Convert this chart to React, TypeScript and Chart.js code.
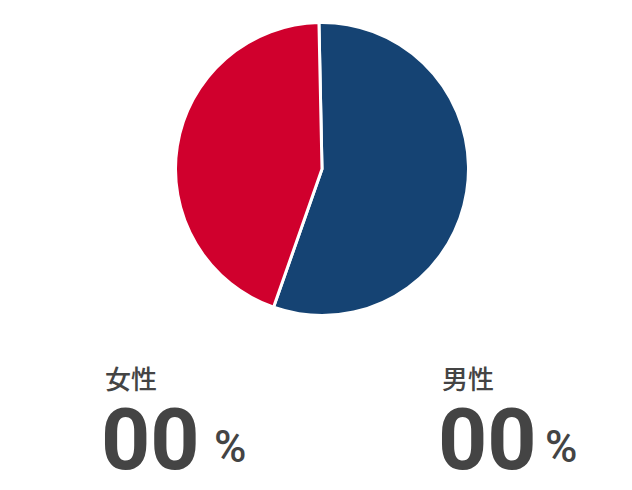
import React, { useEffect, useRef } from "react";
import { Chart, registerables } from "chart.js";

Chart.register(...registerables);

const categories = ["男性", "女性"];
const shares = [55.7, 44.3];
const sliceColors = ["#154373", "#d0002d"];
const percentLabels = ["00", "00"];

const textColor = "#444444";

export default function App() {
  const canvasRef = useRef<HTMLCanvasElement | null>(null);

  useEffect(() => {
    if (!canvasRef.current) return;
    const chart = new Chart(canvasRef.current, {
      type: "pie",
      data: {
        labels: categories,
        datasets: [
          {
            data: shares,
            backgroundColor: sliceColors,
            borderColor: "#ffffff",
            borderWidth: 3,
          },
        ],
      },
      options: {
        animation: false,
        responsive: true,
        maintainAspectRatio: false,
        rotation: -1.2,
        layout: { padding: 0 },
        plugins: {
          legend: { display: false },
          tooltip: { enabled: false },
        },
      },
    });
    return () => chart.destroy();
  }, []);

  const bigFont = "Roboto, 'Noto Sans CJK JP', sans-serif";
  const cjkFont = "'Noto Sans CJK JP', sans-serif";

  const group = (left: number, label: string, value: string, pctLeft: number) => (
    <>
      <div
        style={{
          position: "absolute",
          left,
          top: 365,
          fontFamily: cjkFont,
          fontWeight: 500,
          fontSize: 26,
          lineHeight: "1",
          color: textColor,
          whiteSpace: "nowrap",
        }}
      >
        {label}
      </div>
      <div
        style={{
          position: "absolute",
          left: left - 4,
          top: 397,
          fontFamily: bigFont,
          fontWeight: 700,
          fontSize: 86,
          lineHeight: "1",
          color: textColor,
          whiteSpace: "nowrap",
        }}
      >
        {value}
      </div>
      <div
        style={{
          position: "absolute",
          left: pctLeft,
          top: 425,
          fontFamily: bigFont,
          fontWeight: 500,
          fontSize: 44,
          lineHeight: "1",
          color: textColor,
          whiteSpace: "nowrap",
        }}
      >
        %
      </div>
    </>
  );

  return (
    <div style={{ position: "absolute", left: 0, top: 0, width: 632, height: 490, background: "#ffffff" }}>
      <div style={{ position: "absolute", left: 174, top: 21, width: 296, height: 296 }}>
        <canvas ref={canvasRef} />
      </div>
      {group(105, categories[1], percentLabels[1], 214)}
      {group(442, categories[0], percentLabels[0], 545)}
    </div>
  );
}
